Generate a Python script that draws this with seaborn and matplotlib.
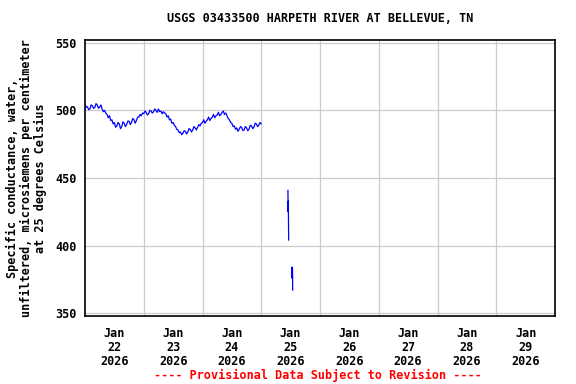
import pandas as pd
import matplotlib
matplotlib.use("Agg")
import matplotlib.pyplot as plt
import seaborn as sns

sns.set_theme(style="white")
plt.rcParams['font.family'] = ['DejaVu Sans Mono']
plt.rcParams['font.weight'] = 'bold'

# half-hourly specific conductance, Jan 22 00:00 -> Jan 25 00:00
main_values = [
    501, 503, 502.5, 500.5, 501, 504, 503.5, 501.5, 502, 505,
    504, 501.5, 502.5, 504, 501, 499, 500, 498, 497, 494.5,
    496, 492.5, 493, 490, 491, 487.5, 488.5, 491, 490, 486.5,
    488, 491.5, 490.5, 488, 489.5, 492, 492, 489.5, 491, 494,
    493, 490.5, 492.5, 495, 495, 497, 496, 498, 497.5, 499.5,
    498.5, 496.5, 497.5, 500, 499.5, 498, 499, 501, 500, 498.5,
    501, 499, 499.5, 497.5, 499, 498, 497.5, 495, 496, 493,
    493.5, 490.5, 491, 489, 488, 486, 485.5, 483.5, 484, 482,
    483, 485, 484.5, 482.5, 484, 486.5, 486, 484, 485.5, 488,
    487, 485.5, 487.5, 489.5, 488.5, 490.5, 491, 493, 490.5, 492,
    493, 495, 492.5, 494, 495, 497, 494.5, 496, 496.5, 498.5,
    496, 497, 498.5, 499.5, 497, 498, 496, 494, 493, 491,
    490.5, 488, 488.5, 486, 487, 484.5, 486, 488, 487.5, 485,
    485.5, 488, 487, 485, 486, 489, 488.5, 486.5, 487.5, 490.5,
    490, 488, 489, 491, 490,
]
# short fragments on Jan 25 (hours after Jan 22 00:00)
frag1_hours = [82.9, 83.0, 83.05, 83.2]
frag1_values = [441, 425, 433, 404]
frag2_hours = [84.45, 84.55, 84.75, 84.85]
frag2_values = [384, 376, 384, 367]

start = pd.Timestamp("2026-01-22 00:00")
rows = []
for i, v in enumerate(main_values):
    rows.append((start + pd.Timedelta(minutes=30 * i), v, 0))
for h, v in zip(frag1_hours, frag1_values):
    rows.append((start + pd.Timedelta(hours=h), v, 1))
for h, v in zip(frag2_hours, frag2_values):
    rows.append((start + pd.Timedelta(hours=h), v, 2))
df = pd.DataFrame(rows, columns=["time", "value", "segment"])

fig = plt.figure(figsize=(5.76, 3.84), dpi=100)
ax = fig.add_axes([85 / 576, 1 - 316 / 384, 470 / 576, 276 / 384])

sns.lineplot(data=df, x="time", y="value", units="segment", estimator=None,
             color="#0000ff", linewidth=0.9, ax=ax, legend=False)

ax.set_xlim(start, start + pd.Timedelta(days=8))
ax.set_ylim(348, 552)
ax.set_yticks([350, 400, 450, 500, 550])

noon_ticks = [start + pd.Timedelta(days=d, hours=12) for d in range(8)]
ax.set_xticks(noon_ticks)
ax.set_xticklabels([f"Jan\n{t.day}\n{t.year}" for t in noon_ticks])
ax.set_xticks([start + pd.Timedelta(days=d) for d in range(1, 8)], minor=True)

ax.grid(False)
ax.grid(which="minor", axis="x", color="#cccccc", linewidth=0.9)
ax.grid(which="major", axis="y", color="#cccccc", linewidth=0.9)
ax.tick_params(which="both", length=0)
ax.tick_params(axis="y", pad=6, labelsize=8.5)
ax.tick_params(axis="x", pad=8, labelsize=8.5)
for lbl in ax.get_xticklabels() + ax.get_yticklabels():
    lbl.set_fontweight("bold")
    lbl.set_color("black")
for lbl in ax.get_xticklabels():
    lbl.set_linespacing(1.1)

for s in ax.spines.values():
    s.set_color("black")
    s.set_linewidth(1.2)

ax.set_xlabel("")
ax.set_ylabel("Specific conductance, water,\nunfiltered, microsiemens per centimeter\nat 25 degrees Celsius",
              fontsize=8.5, fontweight="bold", color="black", labelpad=6, linespacing=1.1)

fig.text(320 / 576, 1 - 19 / 384, "USGS 03433500 HARPETH RIVER AT BELLEVUE, TN",
         ha="center", va="center", fontsize=8.5, fontweight="bold", color="black")
fig.text(318 / 576, 1 - 375 / 384, "---- Provisional Data Subject to Revision ----",
         ha="center", va="center", fontsize=8.5, fontweight="bold", color="red")

fig.savefig("out.png", dpi=100)
